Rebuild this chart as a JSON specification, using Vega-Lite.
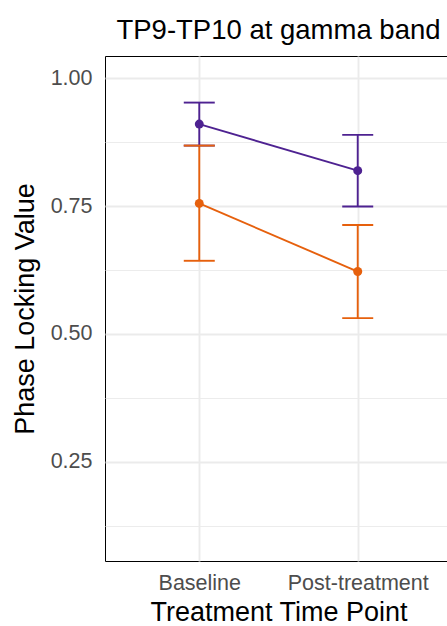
{
  "$schema": "https://vega.github.io/schema/vega-lite/v6.json",
  "autosize": {"type": "none"},
  "width": 347,
  "height": 505,
  "padding": {"left": 105, "top": 56, "right": -5, "bottom": 65},
  "background": "white",
  "title": {"text": "TP9-TP10 at gamma band", "fontSize": 27.5, "font": "Liberation Sans", "fontWeight": "normal", "color": "black", "anchor": "middle", "offset": 12},
  "data": {"values": [
    {"time": "Baseline", "group": "A", "mean": 0.910, "lo": 0.868, "hi": 0.952},
    {"time": "Post-treatment", "group": "A", "mean": 0.819, "lo": 0.749, "hi": 0.889},
    {"time": "Baseline", "group": "B", "mean": 0.755, "lo": 0.643, "hi": 0.868},
    {"time": "Post-treatment", "group": "B", "mean": 0.622, "lo": 0.531, "hi": 0.713}
  ]},
  "encoding": {
    "x": {"field": "time", "type": "nominal", "sort": ["Baseline", "Post-treatment"], "title": "Treatment Time Point",
      "scale": {"type": "point", "padding": 0.595},
      "axis": {"labelAngle": 0, "ticks": false, "domain": false, "grid": true, "gridColor": "#EBEBEB", "gridWidth": 1.9, "labelFontSize": 21.5, "labelColor": "#4D4D4D", "labelPadding": 11, "titleFontSize": 27, "titleColor": "black", "titleFontWeight": "normal", "titlePadding": 6, "labelFont": "Liberation Sans", "titleFont": "Liberation Sans"}},
    "y": {"type": "quantitative", "title": "Phase Locking Value",
      "scale": {"domain": [0.0566, 1.043], "nice": false, "zero": false},
      "axis": {"values": [0.125, 0.25, 0.375, 0.5, 0.625, 0.75, 0.875, 1.0],
        "labelExpr": "datum.value % 0.25 === 0 ? format(datum.value, '.2f') : ''",
        "ticks": false, "domain": false, "grid": true, "gridColor": "#EBEBEB",
        "gridWidth": {"condition": {"test": "datum.value % 0.25 === 0", "value": 1.9}, "value": 0.95},
        "labelFontSize": 21.5, "labelColor": "#4D4D4D", "labelPadding": 13, "labelFont": "Liberation Sans",
        "titleFontSize": 27, "titleColor": "black", "titleFontWeight": "normal", "titlePadding": 11, "titleFont": "Liberation Sans"}},
    "color": {"field": "group", "type": "nominal", "scale": {"domain": ["A", "B"], "range": ["#4E2291", "#E6600D"]}, "legend": null}
  },
  "layer": [
    {"mark": {"type": "rule", "strokeWidth": 1.9, "opacity": 1},
     "encoding": {"y": {"field": "lo"}, "y2": {"field": "hi"}}},
    {"mark": {"type": "tick", "thickness": 1.9, "size": 31, "opacity": 1},
     "encoding": {"y": {"field": "lo"}}},
    {"mark": {"type": "tick", "thickness": 1.9, "size": 31, "opacity": 1},
     "encoding": {"y": {"field": "hi"}}},
    {"mark": {"type": "line", "strokeWidth": 1.9},
     "encoding": {"y": {"field": "mean"}}},
    {"mark": {"type": "point", "filled": true, "size": 80, "opacity": 1},
     "encoding": {"y": {"field": "mean"}}}
  ],
  "config": {"view": {"stroke": "black", "strokeWidth": 1}}
}
